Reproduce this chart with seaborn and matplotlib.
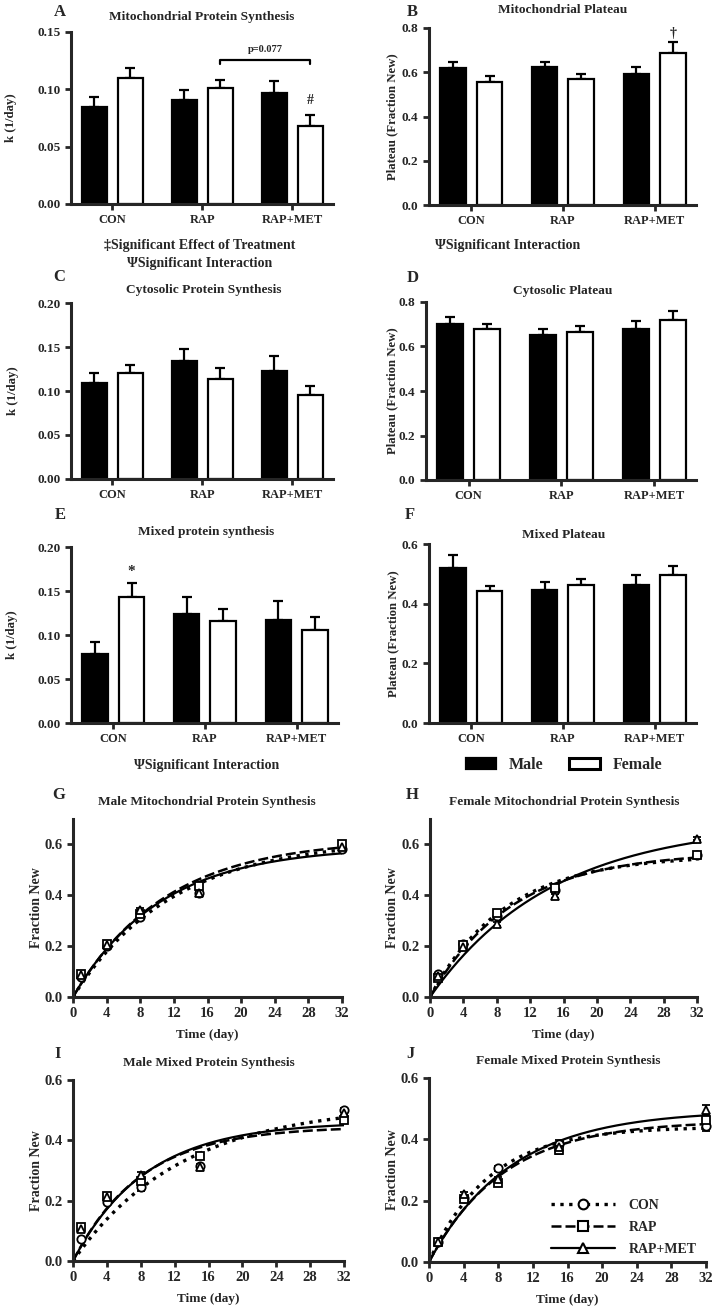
import numpy as np
import pandas as pd
import matplotlib
matplotlib.use("Agg")
import matplotlib.pyplot as plt
import seaborn as sns
from matplotlib.patches import Patch
from matplotlib.lines import Line2D

# ---- data ----
groups = ["CON", "RAP", "RAP+MET"]
sexes = ["Male", "Female"]

# rate constants k (1/day), mean and SEM
mito_k_male = [0.085, 0.091, 0.0965]
mito_k_female = [0.110, 0.101, 0.068]
mito_k_male_sem = [0.008, 0.008, 0.0105]
mito_k_female_sem = [0.009, 0.007, 0.010]

cyto_k_male = [0.109, 0.134, 0.123]
cyto_k_female = [0.121, 0.114, 0.095]
cyto_k_male_sem = [0.011, 0.014, 0.017]
cyto_k_female_sem = [0.008, 0.012, 0.011]

mixed_k_male = [0.078, 0.124, 0.117]
mixed_k_female = [0.143, 0.116, 0.106]
mixed_k_male_sem = [0.014, 0.019, 0.022]
mixed_k_female_sem = [0.016, 0.0135, 0.014]

# plateaus (fraction new)
mito_plat_male = [0.619, 0.622, 0.592]
mito_plat_female = [0.558, 0.571, 0.687]
mito_plat_male_sem = [0.027, 0.026, 0.030]
mito_plat_female_sem = [0.023, 0.022, 0.048]

cyto_plat_male = [0.703, 0.652, 0.677]
cyto_plat_female = [0.680, 0.665, 0.721]
cyto_plat_male_sem = [0.030, 0.025, 0.038]
cyto_plat_female_sem = [0.020, 0.026, 0.040]

mixed_plat_male = [0.518, 0.446, 0.461]
mixed_plat_female = [0.441, 0.461, 0.495]
mixed_plat_male_sem = [0.044, 0.028, 0.036]
mixed_plat_female_sem = [0.019, 0.021, 0.030]

# time course points (fraction new) at each sampling day
time_days = [1, 4, 8, 15, 32]

male_mito_con = [0.080, 0.200, 0.314, 0.408, 0.582]
male_mito_rap = [0.090, 0.208, 0.325, 0.437, 0.600]
male_mito_rm = [0.085, 0.205, 0.343, 0.410, 0.590]
male_mito_err = [0.005, 0.005, 0.006, 0.008, 0.006]

female_mito_con = [0.091, 0.209, 0.320, 0.420, 0.560]
female_mito_rap = [0.076, 0.205, 0.329, 0.428, 0.558]
female_mito_rm = [0.082, 0.196, 0.287, 0.398, 0.623]
female_mito_err = [0.005, 0.005, 0.006, 0.008, 0.006]

male_mixed_con = [0.072, 0.196, 0.244, 0.314, 0.500]
male_mixed_rap = [0.113, 0.215, 0.266, 0.348, 0.467]
male_mixed_rm = [0.105, 0.212, 0.285, 0.312, 0.490]
male_mixed_err = [0.005, 0.005, 0.011, 0.006, 0.006]

female_mixed_con = [0.065, 0.210, 0.305, 0.385, 0.444]
female_mixed_rap = [0.065, 0.204, 0.256, 0.365, 0.464]
female_mixed_rm = [0.065, 0.221, 0.270, 0.375, 0.496]
female_mixed_err = [0.004, 0.006, 0.008, 0.012, 0.016]

# ---- style ----
sns.set_style("ticks")
plt.rcParams['font.family'] = ['Liberation Serif', 'DejaVu Serif']
plt.rcParams['font.weight'] = 'bold'
plt.rcParams['axes.labelweight'] = 'bold'
plt.rcParams['axes.linewidth'] = 2.2
plt.rcParams['xtick.major.width'] = 2
plt.rcParams['ytick.major.width'] = 2
plt.rcParams['xtick.major.size'] = 4
plt.rcParams['ytick.major.size'] = 4
plt.rcParams['xtick.labelsize'] = 9
plt.rcParams['ytick.labelsize'] = 9.5
plt.rcParams['axes.labelsize'] = 9.2

W, H = 716, 1314
fig = plt.figure(figsize=(W / 100, H / 100), dpi=100)


def rect(l, t, r, b):
    return [l / W, 1 - b / H, (r - l) / W, (b - t) / H]


def ftext(x, y, s, size=9.5, **kw):
    fig.text(x / W, 1 - y / H, s, ha="center", va="center", fontsize=size,
             fontweight="bold", **kw)


sex_colors = {"Male": "black", "Female": "white"}


def bar_panel(box, male, female, male_err, female_err, ymax, ystep, fmt, ylabel, label_x):
    ax = fig.add_axes(rect(*box))
    df = pd.DataFrame({"group": groups * 2,
                       "sex": ["Male"] * 3 + ["Female"] * 3,
                       "value": male + female})
    sns.barplot(data=df, x="group", y="value", hue="sex", hue_order=sexes,
                palette=sex_colors, edgecolor="black", linewidth=1.6, gap=0.3,
                errorbar=None, legend=False, ax=ax)
    for cont, err in zip(ax.containers, [male_err, female_err]):
        xs = [b.get_x() + b.get_width() / 2 for b in cont]
        ys = [b.get_height() for b in cont]
        ax.errorbar(xs, ys, yerr=[np.zeros(len(err)), err], fmt="none", ecolor="black",
                    elinewidth=1.6, capsize=3.5, capthick=1.6, zorder=0.5)
    ax.set_xlim(-0.46, 2.45)
    ax.set_ylim(0, ymax)
    ax.set_yticks(np.arange(0, ymax + 1e-9, ystep))
    ax.yaxis.set_major_formatter(fmt)
    ax.set_xlabel("")
    ax.set_ylabel(ylabel)
    ax.yaxis.set_label_coords(label_x, 0.5)
    sns.despine(ax=ax)
    return ax


def curve_panel(box, k, plat, con, rap, rm, err, ymax, label_x):
    ax = fig.add_axes(rect(*box))
    t = np.linspace(0, 32, 200)
    styles = [(":", 2.4, "o"), ((0, (4, 1.6)), 1.8, "s"), ("-", 1.6, "^")]
    for i, (pts, (ls, lw, mk)) in enumerate(zip([con, rap, rm], styles)):
        # one-phase association fit using the panel's k and plateau
        fit = plat[i] * (1 - np.exp(-k[i] * t))
        sns.lineplot(x=t, y=fit, color="black", linestyle=ls, linewidth=lw, ax=ax)
        ax.errorbar(time_days, pts, yerr=err, fmt=mk, mfc="white", mec="black", ms=6,
                    mew=1.3, ecolor="black", elinewidth=1.2, capsize=3, linestyle="none",
                    clip_on=False, zorder=3)
    ax.set_xlim(0, 32)
    ax.set_ylim(0, ymax)
    ax.set_xticks(range(0, 33, 4))
    ax.set_yticks([0, 0.2, 0.4, 0.6])
    ax.yaxis.set_major_formatter("{x:.1f}")
    ax.tick_params(labelsize=10.5)
    ax.set_xlabel("Time (day)", fontsize=9.5, labelpad=6)
    ax.set_ylabel("Fraction New", fontsize=10)
    ax.yaxis.set_label_coords(label_x, 0.5)
    sns.despine(ax=ax)
    return ax


fmt2 = "{x:.2f}"
fmt1 = "{x:.1f}"

axA = bar_panel((71, 32, 333, 204), mito_k_male, mito_k_female, mito_k_male_sem,
                mito_k_female_sem, 0.15, 0.05, fmt2, "k (1/day)", -0.206)
axB = bar_panel((429, 28, 696, 205), mito_plat_male, mito_plat_female, mito_plat_male_sem,
                mito_plat_female_sem, 0.8, 0.2, fmt1, "Plateau (Fraction New)", -0.116)
axC = bar_panel((71, 303, 333, 479), cyto_k_male, cyto_k_female, cyto_k_male_sem,
                cyto_k_female_sem, 0.20, 0.05, fmt2, "k (1/day)", -0.198)
axD = bar_panel((426, 302, 696, 480), cyto_plat_male, cyto_plat_female, cyto_plat_male_sem,
                cyto_plat_female_sem, 0.8, 0.2, fmt1, "Plateau (Fraction New)", -0.104)
axE = bar_panel((71, 547, 338, 723), mixed_k_male, mixed_k_female, mixed_k_male_sem,
                mixed_k_female_sem, 0.20, 0.05, fmt2, "k (1/day)", -0.198)
axF = bar_panel((429, 544, 696, 723), mixed_plat_male, mixed_plat_female, mixed_plat_male_sem,
                mixed_plat_female_sem, 0.6, 0.2, fmt1, "Plateau (Fraction New)", -0.112)

axG = curve_panel((73, 819, 342, 997), mito_k_male, mito_plat_male, male_mito_con,
                  male_mito_rap, male_mito_rm, male_mito_err, 0.7, -0.112)
axH = curve_panel((430, 819, 697, 997), mito_k_female, mito_plat_female, female_mito_con,
                  female_mito_rap, female_mito_rm, female_mito_err, 0.7, -0.116)
axI = curve_panel((73, 1080, 344, 1261), mixed_k_male, mixed_plat_male, male_mixed_con,
                  male_mixed_rap, male_mixed_rm, male_mixed_err, 0.6, -0.111)
axJ = curve_panel((429, 1078, 706, 1262), mixed_k_female, mixed_plat_female, female_mixed_con,
                  female_mixed_rap, female_mixed_rm, female_mixed_err, 0.6, -0.108)

# ---- annotations on bar panels ----
axA.plot([1.2, 1.2, 2.2, 2.2], [0.1225, 0.126, 0.126, 0.1225], color="black", lw=1.6)
axA.text(1.7, 0.1345, "p=0.077", ha="center", va="center", fontsize=7.5, fontweight="bold")
axA.text(2.2, 0.0905, "#", ha="center", va="center", fontsize=10, fontweight="bold")
axB.text(2.2, 0.775, "\u2020", ha="center", va="center", fontsize=10, fontweight="bold")
axE.text(0.2, 0.172, "*", ha="center", va="center", fontsize=11, fontweight="bold")

# ---- titles, panel letters and notes ----
titles = [
    ("A", 60, 12, "Mitochondrial Protein Synthesis", 202, 17),
    ("B", 412, 12, "Mitochondrial Plateau", 563, 10),
    ("C", 59, 277, "Cytosolic Protein Synthesis", 204, 290),
    ("D", 413, 278, "Cytosolic Plateau", 563, 291),
    ("E", 60, 515, "Mixed protein synthesis", 206, 532),
    ("F", 410, 515, "Mixed Plateau", 564, 535),
    ("G", 59, 795, "Male Mitochondrial Protein Synthesis", 207, 802),
    ("H", 412, 795, "Female Mitochondrial Protein Synthesis", 564, 802),
    ("I", 58, 1054, "Male Mixed Protein Synthesis", 209, 1063),
    ("J", 410, 1054, "Female Mixed Protein Synthesis", 568, 1061),
]
for letter, lx, ly, title, tx, ty in titles:
    ftext(lx, ly, letter, size=12)
    ftext(tx, ty, title, size=9.6)

ftext(200, 245, "\u2021Significant Effect of Treatment", size=10)
ftext(200, 264, "\u03a8Significant Interaction", size=10)
ftext(508, 245, "\u03a8Significant Interaction", size=10)
ftext(207, 766, "\u03a8Significant Interaction", size=10)

# ---- legends ----
sex_handles = [Patch(facecolor="black", edgecolor="black", linewidth=1.6),
               Patch(facecolor="white", edgecolor="black", linewidth=2.2)]
fig.legend(sex_handles, sexes, ncol=2, loc="center", bbox_to_anchor=(564 / W, 1 - 765 / H),
           frameon=False, prop={"size": 11.5, "weight": "bold"}, handlelength=1.9,
           handleheight=0.7, columnspacing=1.6, handletextpad=0.8)

line_handles = [
    Line2D([], [], color="black", linestyle=":", lw=2.4, marker="o", mfc="white", mec="black", ms=7, mew=1.5),
    Line2D([], [], color="black", linestyle=(0, (4, 1.6)), lw=1.8, marker="s", mfc="white", mec="black", ms=7, mew=1.5),
    Line2D([], [], color="black", linestyle="-", lw=1.6, marker="^", mfc="white", mec="black", ms=7, mew=1.5),
]
axJ.legend(line_handles, groups, loc="upper left", bbox_to_anchor=(0.44, 0.345), frameon=False,
           prop={"size": 10, "weight": "bold"}, handlelength=4.6, labelspacing=0.65,
           borderaxespad=0, borderpad=0, handletextpad=1.0, numpoints=1)

fig.savefig("out.png", dpi=100)
